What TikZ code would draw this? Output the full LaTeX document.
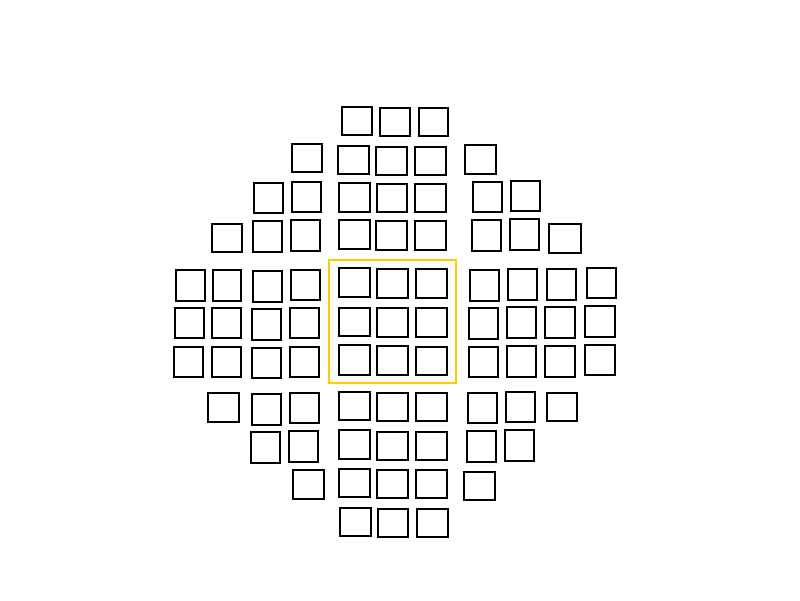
\documentclass[tikz,border=0pt]{standalone}
\definecolor{hl}{RGB}{255,204,0}
\tikzset{
  sqbox/.style={draw=black, line width=2pt, rectangle, inner sep=0pt, outer sep=0pt, fill=white},
  hlbox/.style={draw=hl, line width=2pt, rectangle, inner sep=0pt, outer sep=0pt}
}
\newcommand\sqq[5]{\node[sqbox,minimum width={#4-#2-2},minimum height={#5-#3-2}] (#1) at ({(#2+#4)/2},{(#3+#5)/2}) {};}
\begin{document}
\begin{tikzpicture}[x=1pt,y=-1pt]
\useasboundingbox (0,0) rectangle (800,600);
\node[hlbox,minimum width=127,minimum height=123] (hl) at (392.5,321.5) {};
% top rows
\sqq{t1a}{341}{106}{373}{136}
\sqq{t1b}{379}{107}{411}{137}
\sqq{t1c}{418}{107}{449}{137}
\sqq{t2a}{291}{143}{323}{173}
\sqq{t2b}{337}{145}{370}{175}
\sqq{t2c}{375}{146}{408}{176}
\sqq{t2d}{414}{146}{447}{176}
\sqq{t2e}{464}{144}{497}{175}
\sqq{t3a}{253}{182}{284}{214}
\sqq{t3b}{291}{181}{322}{213}
\sqq{t3c}{338}{182}{371}{213}
\sqq{t3d}{376}{183}{408}{213}
\sqq{t3e}{414}{183}{447}{213}
\sqq{t3f}{472}{181}{503}{213}
\sqq{t3g}{510}{180}{541}{212}
\sqq{t4a}{211}{223}{243}{253}
\sqq{t4b}{252}{220}{283}{253}
\sqq{t4c}{290}{219}{321}{252}
\sqq{t4d}{338}{219}{371}{250}
\sqq{t4e}{375}{220}{408}{251}
\sqq{t4f}{414}{220}{447}{251}
\sqq{t4g}{471}{219}{502}{252}
\sqq{t4h}{509}{218}{540}{251}
\sqq{t4i}{548}{223}{582}{254}
% middle rows
\sqq{mAa}{175}{269}{206}{302}
\sqq{mAb}{212}{269}{242}{302}
\sqq{mAc}{252}{270}{283}{303}
\sqq{mAd}{290}{269}{321}{301}
\sqq{mAe}{338}{267}{371}{298}
\sqq{mAf}{376}{268}{409}{299}
\sqq{mAg}{415}{268}{448}{299}
\sqq{mAh}{469}{269}{500}{302}
\sqq{mAi}{507}{268}{538}{301}
\sqq{mAj}{546}{268}{577}{301}
\sqq{mAk}{586}{267}{617}{299}
\sqq{mBa}{174}{307}{205}{339}
\sqq{mBb}{211}{307}{242}{339}
\sqq{mBc}{251}{308}{282}{341}
\sqq{mBd}{289}{307}{320}{339}
\sqq{mBe}{338}{307}{371}{337}
\sqq{mBf}{376}{307}{409}{338}
\sqq{mBg}{415}{307}{448}{338}
\sqq{mBh}{468}{307}{499}{340}
\sqq{mBi}{506}{306}{537}{339}
\sqq{mBj}{544}{306}{576}{339}
\sqq{mBk}{584}{305}{616}{338}
\sqq{mCa}{173}{346}{204}{378}
\sqq{mCb}{211}{346}{242}{378}
\sqq{mCc}{251}{347}{282}{379}
\sqq{mCd}{289}{346}{320}{378}
\sqq{mCe}{338}{344}{371}{376}
\sqq{mCf}{376}{345}{409}{376}
\sqq{mCg}{415}{346}{448}{376}
\sqq{mCh}{468}{346}{499}{378}
\sqq{mCi}{506}{345}{537}{378}
\sqq{mCj}{544}{345}{576}{378}
\sqq{mCk}{584}{344}{616}{376}
% bottom rows
\sqq{bDa}{207}{392}{240}{423}
\sqq{bDb}{251}{393}{282}{426}
\sqq{bDc}{289}{392}{320}{424}
\sqq{bDd}{338}{391}{371}{421}
\sqq{bDe}{376}{392}{409}{422}
\sqq{bDf}{415}{392}{448}{422}
\sqq{bDg}{467}{392}{498}{424}
\sqq{bDh}{505}{391}{536}{423}
\sqq{bDi}{546}{392}{578}{422}
\sqq{bEa}{250}{431}{281}{464}
\sqq{bEb}{288}{430}{319}{463}
\sqq{bEc}{338}{429}{371}{460}
\sqq{bEd}{376}{431}{409}{461}
\sqq{bEe}{415}{431}{448}{461}
\sqq{bEf}{466}{430}{497}{463}
\sqq{bEg}{504}{429}{535}{462}
\sqq{bFa}{292}{469}{325}{500}
\sqq{bFb}{338}{468}{371}{498}
\sqq{bFc}{376}{469}{409}{499}
\sqq{bFd}{415}{469}{448}{499}
\sqq{bFe}{463}{471}{496}{501}
\sqq{bGa}{339}{507}{372}{537}
\sqq{bGb}{377}{508}{409}{538}
\sqq{bGc}{416}{508}{449}{538}
\end{tikzpicture}
\end{document}
